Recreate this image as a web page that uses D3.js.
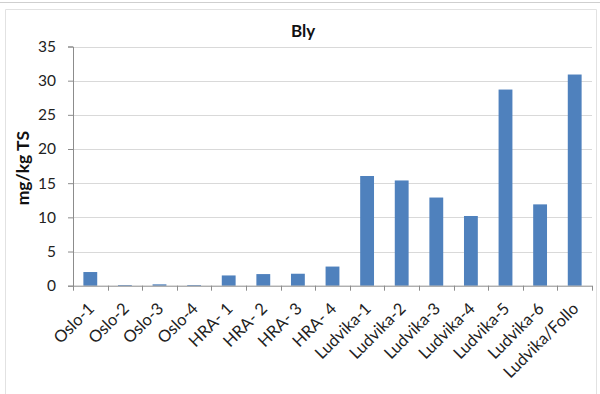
<!DOCTYPE html>
<html>
<head>
<meta charset="utf-8">
<script src="https://cdn.jsdelivr.net/npm/d3@7"></script>
<style>
  html, body { margin: 0; padding: 0; background: #fff; }
  svg { display: block; font-family: Lato, "Open Sans", sans-serif; }
</style>
</head>
<body>
<svg id="chart" width="600" height="394"></svg>
<script>
// Lead (Bly) content per sample, mg/kg TS
const categories = ["Oslo-1", "Oslo-2", "Oslo-3", "Oslo-4", "HRA- 1", "HRA- 2", "HRA- 3", "HRA- 4",
  "Ludvika-1", "Ludvika-2", "Ludvika-3", "Ludvika-4", "Ludvika-5", "Ludvika-6", "Ludvika/Follo"];
const blyValues = [2.0, 0.1, 0.2, 0.1, 1.5, 1.7, 1.75, 2.8, 16.05, 15.4, 12.9, 10.2, 28.7, 11.9, 30.9];
const yTicks = [0, 5, 10, 15, 20, 25, 30, 35];
const chartTitle = "Bly";
const yAxisTitle = "mg/kg TS";

const svg = d3.select("#chart");
const W = 600, H = 394;
const plot = { left: 73, right: 592, top: 46.5, bottom: 285.7 };

// outer frame lines
svg.append("line").attr("x1", 0).attr("x2", W).attr("y1", 2.5).attr("y2", 2.5)
  .attr("stroke", "#cfcfcf").attr("stroke-width", 1);
svg.append("path")
  .attr("d", `M5.5,${H} V9.5 H${W - 3.5} V${H}`)
  .attr("fill", "none").attr("stroke", "#e2e2e2").attr("stroke-width", 1);

const x = d3.scaleBand().domain(categories).range([plot.left, plot.right]).paddingInner(0.6).paddingOuter(0.3);
const y = d3.scaleLinear().domain([0, 35]).range([plot.bottom, plot.top]);

// horizontal gridlines
svg.append("g").selectAll("line").data(yTicks.filter(d => d > 0)).join("line")
  .attr("x1", plot.left).attr("x2", plot.right)
  .attr("y1", d => Math.round(y(d)) + 0.5).attr("y2", d => Math.round(y(d)) + 0.5)
  .attr("stroke", "#d9d9d9").attr("stroke-width", 1.2);

// bars
svg.append("g").selectAll("rect").data(blyValues).join("rect")
  .attr("x", (d, i) => x(categories[i]))
  .attr("width", x.bandwidth())
  .attr("y", d => y(d))
  .attr("height", d => plot.bottom - y(d))
  .attr("fill", "#4f81bd");

// y axis
const yAxis = svg.append("g").attr("transform", `translate(${plot.left},0)`)
  .call(d3.axisLeft(y).tickValues(yTicks).tickSize(5).tickPadding(12));
yAxis.select(".domain").attr("stroke", "#8c8c8c");
yAxis.selectAll(".tick line").attr("stroke", "#8c8c8c");
yAxis.selectAll(".tick text").attr("font-size", 15.5).attr("fill", "#222")
  .attr("font-family", "Lato, 'Open Sans', sans-serif");

// x axis: ticks at category boundaries
const edges = d3.range(categories.length + 1).map(i => plot.left + i * (plot.right - plot.left) / categories.length);
const xAxisG = svg.append("g");
xAxisG.append("line").attr("x1", plot.left).attr("x2", plot.right)
  .attr("y1", plot.bottom + 0.5).attr("y2", plot.bottom + 0.5).attr("stroke", "#8c8c8c");
xAxisG.selectAll("line.tk").data(edges).join("line").attr("class", "tk")
  .attr("x1", d => Math.round(d) + 0.5).attr("x2", d => Math.round(d) + 0.5)
  .attr("y1", plot.bottom).attr("y2", plot.bottom + 5).attr("stroke", "#8c8c8c");

// rotated category labels
xAxisG.selectAll("text").data(categories).join("text")
  .attr("transform", d => `translate(${x(d) + x.bandwidth() / 2 + 5},${plot.bottom + 24}) rotate(-45)`)
  .attr("text-anchor", "end")
  .attr("font-size", 16.5)
  .attr("fill", "#222")
  .text(d => d);

// titles
svg.append("text").attr("x", 303).attr("y", 37).attr("text-anchor", "middle")
  .attr("font-size", 17).attr("font-weight", "bold").attr("fill", "#111").text(chartTitle);
svg.append("text").attr("transform", `translate(29,${(plot.top + plot.bottom) / 2 + 2}) rotate(-90)`)
  .attr("text-anchor", "middle").attr("font-size", 17.5).attr("font-weight", "bold").attr("fill", "#111")
  .text(yAxisTitle);
</script>
</body>
</html>
